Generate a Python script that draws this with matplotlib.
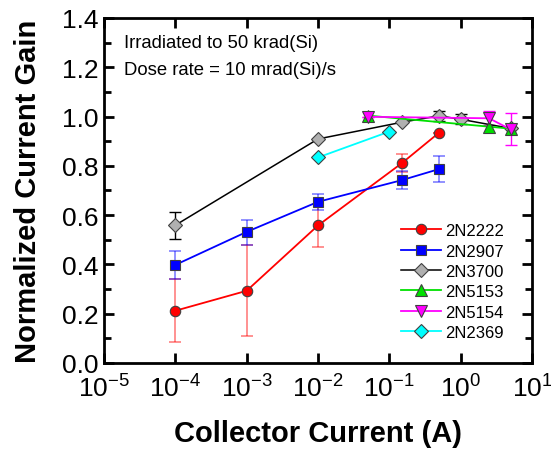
import matplotlib
matplotlib.use("Agg")
import matplotlib.pyplot as plt
from matplotlib.ticker import MultipleLocator, LogLocator, NullLocator

plt.rcParams['font.family'] = ['Liberation Sans', 'DejaVu Sans']
plt.rcParams['mathtext.default'] = 'regular'
plt.rcParams['axes.unicode_minus'] = False

# 2N2222
i_2222 = [1e-4, 1e-3, 1e-2, 0.15, 0.5]
g_2222 = [0.212, 0.293, 0.558, 0.811, 0.935]
elo_2222 = [0.127, 0.183, 0.089, 0.035, 0.0]
ehi_2222 = [0.130, 0.184, 0.089, 0.036, 0.0]

# 2N2907
i_2907 = [1e-4, 1e-3, 1e-2, 0.15, 0.5]
g_2907 = [0.398, 0.532, 0.654, 0.742, 0.787]
elo_2907 = [0.056, 0.052, 0.033, 0.037, 0.052]
ehi_2907 = [0.055, 0.049, 0.030, 0.037, 0.054]

# 2N3700
i_3700 = [1e-4, 1e-2, 0.15, 0.5, 1.0, 5.0]
g_3700 = [0.559, 0.909, 0.977, 1.003, 0.989, 0.952]
err_3700 = [0.055, 0.0, 0.0, 0.02, 0.02, 0.0]

# 2N5153
i_5153 = [0.05, 2.5, 5.0]
g_5153 = [1.004, 0.959, 0.951]
err_5153 = [0.0, 0.025, 0.0]

# 2N5154
i_5154 = [0.05, 2.5, 5.0]
g_5154 = [0.999, 0.993, 0.948]
elo_5154 = [0.0, 0.028, 0.064]
ehi_5154 = [0.0, 0.030, 0.065]

# 2N2369
i_2369 = [1e-2, 0.1]
g_2369 = [0.834, 0.939]

fig = plt.figure(figsize=(5.51, 4.52), dpi=100)
ax = fig.add_axes([0.1887, 0.1947, 0.9655 - 0.1887, 0.958 - 0.1947])

edge = '#404040'
ax.errorbar(i_2222, g_2222, yerr=[elo_2222, ehi_2222], fmt='none',
            ecolor=(1, 0, 0, 0.5), elinewidth=1.2, capsize=4, capthick=1.2, zorder=2)
ax.errorbar(i_2907, g_2907, yerr=[elo_2907, ehi_2907], fmt='none',
            ecolor=(0, 0, 1, 0.5), elinewidth=1.2, capsize=4, capthick=1.2, zorder=2)
ax.errorbar(i_3700, g_3700, yerr=err_3700, fmt='none',
            ecolor='black', elinewidth=1.0, capsize=4, capthick=1.0, zorder=2)
ax.errorbar(i_5153, g_5153, yerr=err_5153, fmt='none',
            ecolor='#00c000', elinewidth=1.0, capsize=0, zorder=2)
ax.errorbar(i_5154, g_5154, yerr=[elo_5154, ehi_5154], fmt='none',
            ecolor='magenta', elinewidth=1.0, capsize=4, capthick=1.0, zorder=2)

ax.plot(i_2222, g_2222, '-o', color='red', mfc='red', mec=edge, mew=0.8,
        ms=7.5, lw=1.3, label='2N2222', zorder=3)
ax.plot(i_2907, g_2907, '-s', color='blue', mfc='blue', mec=edge, mew=0.8,
        ms=7, lw=1.3, label='2N2907', zorder=3)
ax.plot(i_3700, g_3700, '-D', color='black', mfc='#b0b0b0', mec=edge, mew=0.8,
        ms=7.5, lw=1.1, label='2N3700', zorder=3)
ax.plot(i_5153, g_5153, '-^', color='#00e000', mfc='#00e000', mec=edge, mew=0.8,
        ms=8.5, lw=1.3, label='2N5153', zorder=3)
ax.plot(i_5154, g_5154, '-v', color='magenta', mfc='magenta', mec=edge, mew=0.8,
        ms=8.5, lw=1.3, label='2N5154', zorder=3)
ax.plot(i_2369, g_2369, '-D', color='cyan', mfc='cyan', mec=edge, mew=0.8,
        ms=7.5, lw=1.3, label='2N2369', zorder=3)

ax.set_xscale('log')
ax.set_xlim(1e-5, 10)
ax.set_ylim(0, 1.4)
ax.xaxis.set_major_locator(LogLocator(base=10, numticks=10))
ax.xaxis.set_minor_locator(NullLocator())
ax.yaxis.set_major_locator(MultipleLocator(0.2))
ax.yaxis.set_minor_locator(MultipleLocator(0.1))
ax.yaxis.set_major_formatter(matplotlib.ticker.FormatStrFormatter('%.1f'))

for s in ax.spines.values():
    s.set_linewidth(2)
ax.tick_params(which='both', direction='in', top=True, right=True,
               width=2, labelsize=19)
ax.tick_params(which='major', length=7)
ax.tick_params(which='minor', length=5)
ax.tick_params(axis='y', pad=4)
ax.tick_params(axis='x', pad=8)

ax.set_xlabel('Collector Current (A)', fontsize=21, fontweight='bold', labelpad=13)
ax.set_ylabel('Normalized Current Gain', fontsize=21, fontweight='bold', labelpad=14)

ax.text(0.047, 0.93, 'Irradiated to 50 krad(Si)', transform=ax.transAxes,
        fontsize=13.3, va='center', ha='left')
ax.text(0.047, 0.85, 'Dose rate = 10 mrad(Si)/s', transform=ax.transAxes,
        fontsize=13.3, va='center', ha='left')

ax.legend(loc='upper left', bbox_to_anchor=(0.695, 0.405), frameon=False,
          fontsize=12, handlelength=2.4, handletextpad=0.2, labelspacing=0.32,
          borderpad=0, borderaxespad=0)

fig.savefig('out.png', dpi=100)
